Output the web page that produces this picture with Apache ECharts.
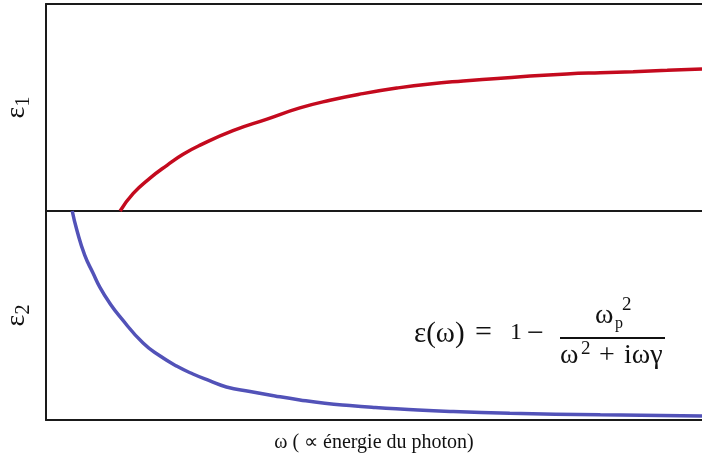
<!DOCTYPE html>
<html>
<head>
<meta charset="utf-8">
<script src="https://cdn.jsdelivr.net/npm/echarts@6/dist/echarts.min.js"></script>
<style>
  html, body { margin: 0; padding: 0; background: #fff; }
  #chart { width: 702px; height: 459px; }
</style>
</head>
<body>
<div id="chart"></div>
<script>
// omega and epsilon in arbitrary units
var eps1Omega = [1.13, 1.33, 1.59, 1.85, 2.09, 2.35, 2.85, 3.37, 3.87, 4.33, 4.83, 5.35, 5.85, 6.36, 6.88, 7.38, 7.94, 8.45, 8.95, 9.47, 10]
var eps1Values = [0, 0.085, 0.160, 0.222, 0.274, 0.318, 0.388, 0.444, 0.498, 0.535, 0.567, 0.594, 0.614, 0.628, 0.640, 0.652, 0.662, 0.668, 0.673, 0.680, 0.686]

var eps2Omega = [0.40, 0.47, 0.59, 0.72, 0.82, 0.98, 1.13, 1.48, 1.74, 1.99, 2.24, 2.50, 2.75, 3.11, 3.49, 3.87, 4.25, 4.63, 5.02, 5.40, 6.16, 7.07, 8.45, 10]
var eps2Values = [1.0, 0.909, 0.789, 0.701, 0.636, 0.555, 0.493, 0.368, 0.306, 0.258, 0.220, 0.187, 0.158, 0.136, 0.115, 0.096, 0.080, 0.069, 0.060, 0.053, 0.041, 0.032, 0.025, 0.019]

var serif = 'Liberation Serif'
var ink = '#111'
var lineCol = '#1a1a1a'

function pairs (xs, ys) {
  return xs.map(function (x, i) { return [x, ys[i]] })
}

// one formula glyph group, placed by left edge and vertical middle
function txt (text, x, y, size) {
  return {
    type: 'text', x: x, y: y,
    style: { text: text, fontFamily: serif, fontSize: size, fill: ink, align: 'left', verticalAlign: 'middle' }
  }
}

var chart = echarts.init(document.getElementById('chart'))

var hidden = { show: false }
var axisLine = { show: true, lineStyle: { color: lineCol, width: 2 } }
var epsRich = {
  e: { fontFamily: serif, fontSize: 28, color: ink, verticalAlign: 'middle', lineHeight: 34 },
  s: { fontFamily: serif, fontSize: 20, color: ink, verticalAlign: 'bottom', lineHeight: 34 }
}

chart.setOption({
  animation: false,
  grid: [
    { left: 46, top: 4, width: 656, height: 207, outerBoundsMode: 'none', containLabel: false },
    { left: 46, top: 211, width: 656, height: 209, outerBoundsMode: 'none', containLabel: false }
  ],
  xAxis: [
    { gridIndex: 0, type: 'value', min: 0, max: 10, position: 'bottom',
      axisLine: axisLine, axisTick: hidden, axisLabel: hidden, splitLine: hidden },
    { gridIndex: 0, type: 'value', min: 0, max: 10, position: 'top',
      axisLine: axisLine, axisTick: hidden, axisLabel: hidden, splitLine: hidden },
    { gridIndex: 1, type: 'value', min: 0, max: 10, position: 'bottom',
      axisLine: axisLine, axisTick: hidden, axisLabel: hidden, splitLine: hidden,
      name: 'ω ( ∝ énergie du photon)', nameLocation: 'middle', nameGap: 13,
      nameTextStyle: { fontFamily: serif, fontSize: 20, color: ink } }
  ],
  yAxis: [
    { gridIndex: 0, type: 'value', min: 0, max: 1,
      axisLine: axisLine, axisTick: hidden, axisLabel: hidden, splitLine: hidden,
      name: '{e|ε}{s|1}', nameLocation: 'middle', nameGap: 12, nameRotate: 90,
      nameTextStyle: { fontFamily: serif, color: ink, rich: epsRich } },
    { gridIndex: 1, type: 'value', min: 0, max: 1,
      axisLine: axisLine, axisTick: hidden, axisLabel: hidden, splitLine: hidden,
      name: '{e|ε}{s|2}', nameLocation: 'middle', nameGap: 12, nameRotate: 90,
      nameTextStyle: { fontFamily: serif, color: ink, rich: epsRich } }
  ],
  series: [
    {
      name: 'ε1', type: 'line', xAxisIndex: 0, yAxisIndex: 0,
      smooth: 0.5, showSymbol: false,
      lineStyle: { color: '#c40a1e', width: 3.5 },
      data: pairs(eps1Omega, eps1Values)
    },
    {
      name: 'ε2', type: 'line', xAxisIndex: 2, yAxisIndex: 1,
      smooth: 0.5, showSymbol: false,
      lineStyle: { color: '#5252b8', width: 3.5 },
      data: pairs(eps2Omega, eps2Values)
    }
  ],
  graphic: [
    txt('ε(ω)', 414, 334, 29),
    txt('=', 475, 333, 30),
    txt('1', 510, 333, 24),
    txt('−', 527, 334, 30),
    { type: 'rect', shape: { x: 560, y: 337, width: 105, height: 2 }, style: { fill: ink } },
    txt('ω', 595, 316, 28),
    txt('p', 615, 324, 16),
    txt('2', 622, 305, 19),
    txt('ω', 560, 356, 28),
    txt('2', 581, 349, 19),
    txt('+', 599, 356, 28),
    txt('iωγ', 624, 356, 28)
  ]
})
</script>
</body>
</html>
